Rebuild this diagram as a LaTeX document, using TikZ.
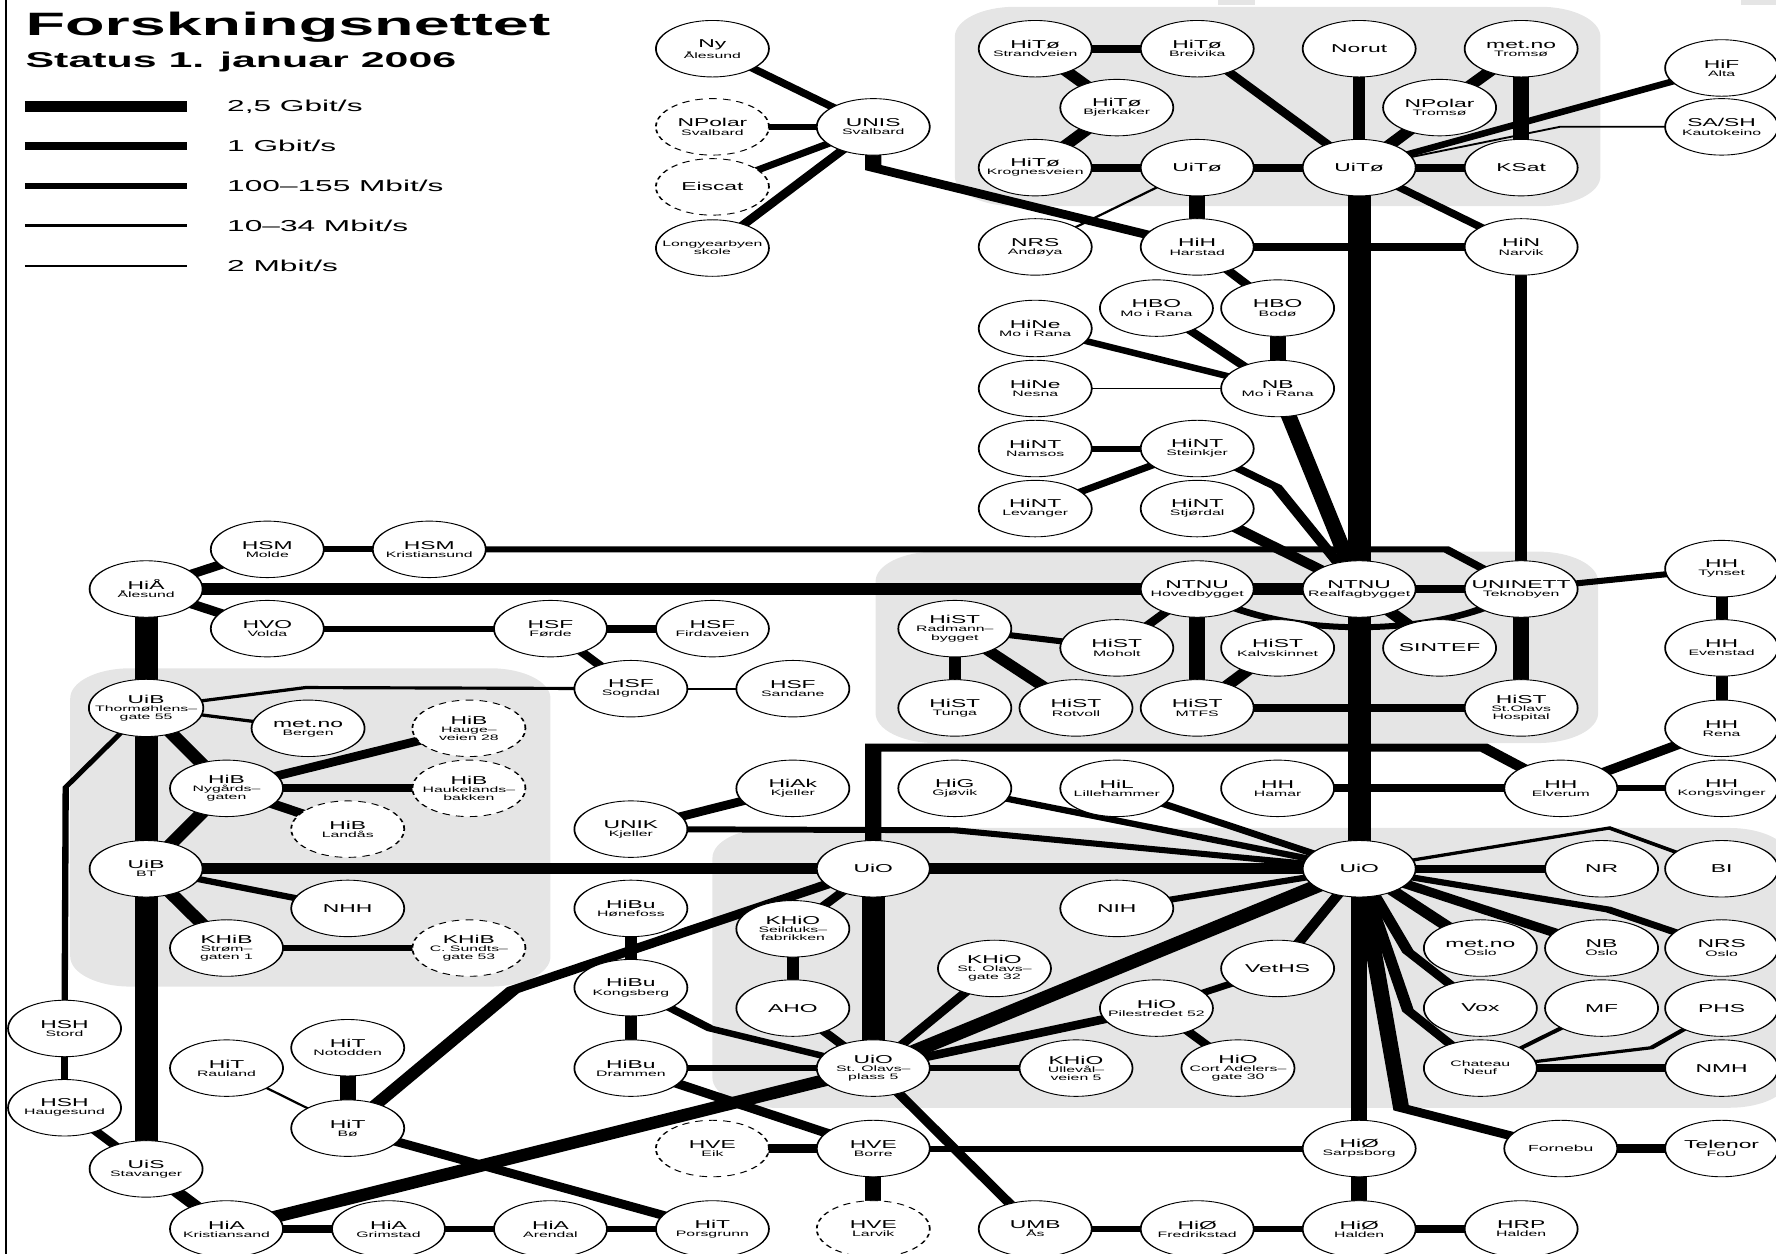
\documentclass[tikz,border=0pt]{standalone}
\usepackage{fontspec}
\setmainfont{Liberation Sans}
\usetikzlibrary{calc}
\definecolor{regiongray}{gray}{0.9}
\newcommand{\sm}[1]{{\fontsize{4.5}{4.6}\selectfont #1}}
\pgfdeclarelayer{regions}
\pgfdeclarelayer{links}
\pgfsetlayers{regions,links,main}
\tikzset{
  wide/.style={transform canvas={xscale=2}, x=0.11325mm, y=-0.2265mm},
  site/.style={circle, draw, line width=0.5pt, fill=white, minimum size=11.3mm, inner sep=0pt, align=center, font=\fontsize{6.5}{4.6}\selectfont},
  planned/.style={site, dash pattern=on 2.2pt off 1.8pt},
  region/.style={fill=regiongray, rounded corners=6mm},
  gbit25/.style={line width=6.5pt},
  gbit1/.style={line width=4.6pt},
  mbit100/.style={line width=3.4pt},
  mbit10/.style={line width=1.8pt},
  mbit2/.style={line width=1pt}
}
\begin{document}
\begin{tikzpicture}
\path[use as bounding box] (0,0) rectangle (35.515cm,-25.074cm);
\begin{scope}[wide]
% title and legend
\draw[line width=0.5pt] (5,0) -- (5,1107);
\node[anchor=base west, font=\fontsize{18.4}{20}\selectfont\bfseries, inner sep=0pt] (title) at (22,31) {Forskningsnettet};
\node[anchor=base west, font=\fontsize{12.2}{14}\selectfont\bfseries, inner sep=0pt] (status) at (22,60) {Status 1. januar 2006};
\draw[gbit25] (22,94) -- (165,94);
\draw[gbit1] (22,129) -- (165,129);
\draw[mbit100] (22,164) -- (165,164);
\draw[mbit10] (22,199) -- (165,199);
\draw[mbit2] (22,235) -- (165,235);
\node[anchor=west, font=\fontsize{9}{9}\selectfont, inner sep=0pt] (leg1) at (200,94) {2,5 Gbit/s};
\node[anchor=west, font=\fontsize{9}{9}\selectfont, inner sep=0pt] (leg2) at (200,129) {1 Gbit/s};
\node[anchor=west, font=\fontsize{9}{9}\selectfont, inner sep=0pt] (leg3) at (200,164) {100–155 Mbit/s};
\node[anchor=west, font=\fontsize{9}{9}\selectfont, inner sep=0pt] (leg4) at (200,199) {10–34 Mbit/s};
\node[anchor=west, font=\fontsize{9}{9}\selectfont, inner sep=0pt] (leg5) at (200,235) {2 Mbit/s};
% Svalbard
\node[site] (nyaal) at (629,43) {Ny\\\sm{Ålesund}};
\node[planned] (npolsv) at (629,112) {NPolar\\\sm{Svalbard}};
\node[planned] (eiscat) at (629,165) {Eiscat};
\node[site] (lyb) at (629,219) {\sm{Longyearbyen}\\\sm{skole}};
\node[site] (unis) at (771,112) {UNIS\\\sm{Svalbard}};
% Tromsø and the north
\node[site] (hitostr) at (914,43) {HiTø\\\sm{Strandveien}};
\node[site] (hitobre) at (1057,43) {HiTø\\\sm{Breivika}};
\node[site] (norut) at (1200,43) {Norut};
\node[site] (mettos) at (1343,43) {met.no\\\sm{Tromsø}};
\node[site] (hitobje) at (986,95) {HiTø\\\sm{Bjerkaker}};
\node[site] (npoltos) at (1271,95) {NPolar\\\sm{Tromsø}};
\node[site] (hitokro) at (914,148) {HiTø\\\sm{Krognesveien}};
\node[site] (uitoa) at (1057,148) {UiTø};
\node[site] (uitob) at (1200,148) {UiTø};
\node[site] (ksat) at (1343,148) {KSat};
\node[site] (hif) at (1520,60) {HiF\\\sm{Alta}};
\node[site] (sash) at (1520,112) {SA/SH\\\sm{Kautokeino}};
\node[site] (nrsand) at (914,218) {NRS\\\sm{Andøya}};
\node[site] (hih) at (1057,218) {HiH\\\sm{Harstad}};
\node[site] (hin) at (1343,218) {HiN\\\sm{Narvik}};
\node[site] (hbomo) at (1021,272) {HBO\\\sm{Mo i Rana}};
\node[site] (hbobod) at (1128,272) {HBO\\\sm{Bodø}};
\node[site] (hinemo) at (914,290) {HiNe\\\sm{Mo i Rana}};
\node[site] (nbmo) at (1128,343) {NB\\\sm{Mo i Rana}};
\node[site] (hinenes) at (914,343) {HiNe\\\sm{Nesna}};
\node[site] (hintnam) at (914,396) {HiNT\\\sm{Namsos}};
\node[site] (hintste) at (1057,396) {HiNT\\\sm{Steinkjer}};
\node[site] (hintlev) at (914,449) {HiNT\\\sm{Levanger}};
\node[site] (hintstj) at (1057,449) {HiNT\\\sm{Stjørdal}};
% Trondheim
\node[site] (ntnuhb) at (1057,520) {NTNU\\\sm{Hovedbygget}};
\node[site] (ntnurf) at (1200,520) {NTNU\\\sm{Realfagbygget}};
\node[site] (uninett) at (1343,520) {UNINETT\\\sm{Teknobyen}};
\node[site] (histrad) at (843,555) {HiST\\\sm{Radmann–}\\\sm{bygget}};
\node[site] (histmoh) at (986,572) {HiST\\\sm{Moholt}};
\node[site] (histkal) at (1128,572) {HiST\\\sm{Kalvskinnet}};
\node[site] (sintef) at (1271,572) {SINTEF};
\node[site] (histtun) at (843,625) {HiST\\\sm{Tunga}};
\node[site] (histrot) at (950,625) {HiST\\\sm{Rotvoll}};
\node[site] (histmtfs) at (1057,625) {HiST\\\sm{MTFS}};
\node[site] (histsto) at (1343,625) {HiST\\\sm{St.Olavs}\\\sm{Hospital}};
% Hedmark and Oppland
\node[site] (hhtyn) at (1520,502) {HH\\\sm{Tynset}};
\node[site] (hheve) at (1520,572) {HH\\\sm{Evenstad}};
\node[site] (hhren) at (1520,643) {HH\\\sm{Rena}};
\node[site] (hhelv) at (1378,696) {HH\\\sm{Elverum}};
\node[site] (hhkon) at (1520,696) {HH\\\sm{Kongsvinger}};
\node[site] (hhham) at (1128,696) {HH\\\sm{Hamar}};
\node[site] (hil) at (986,696) {HiL\\\sm{Lillehammer}};
\node[site] (hig) at (843,696) {HiG\\\sm{Gjøvik}};
% Vestlandet
\node[site] (hsmmol) at (236,485) {HSM\\\sm{Molde}};
\node[site] (hsmkri) at (379,485) {HSM\\\sm{Kristiansund}};
\node[site] (hiaal) at (129,520) {HiÅ\\\sm{Ålesund}};
\node[site] (hvo) at (236,555) {HVO\\\sm{Volda}};
\node[site] (hsffor) at (486,555) {HSF\\\sm{Førde}};
\node[site] (hsffir) at (629,555) {HSF\\\sm{Firdaveien}};
\node[site] (hsfsog) at (557,608) {HSF\\\sm{Sogndal}};
\node[site] (hsfsan) at (700,608) {HSF\\\sm{Sandane}};
% Bergen
\node[site] (uibtho) at (129,625) {UiB\\\sm{Thormøhlens–}\\\sm{gate 55}};
\node[site] (metbg) at (272,643) {met.no\\\sm{Bergen}};
\node[planned] (hibhau) at (414,643) {HiB\\\sm{Hauge–}\\\sm{veien 28}};
\node[site] (hibnyg) at (200,696) {HiB\\\sm{Nygårds–}\\\sm{gaten}};
\node[planned] (hibhauk) at (414,696) {HiB\\\sm{Haukelands–}\\\sm{bakken}};
\node[planned] (hiblan) at (307,732) {HiB\\\sm{Landås}};
\node[site] (uibbt) at (129,767) {UiB\\\sm{BT}};
\node[site] (nhh) at (307,802) {NHH};
\node[site] (khibstr) at (200,837) {KHiB\\\sm{Strøm–}\\\sm{gaten 1}};
\node[planned] (khibcs) at (414,837) {KHiB\\\sm{C. Sundts–}\\\sm{gate 53}};
% south and west coast
\node[site] (hshsto) at (57,908) {HSH\\\sm{Stord}};
\node[site] (hshhau) at (57,978) {HSH\\\sm{Haugesund}};
\node[site] (uis) at (129,1032) {UiS\\\sm{Stavanger}};
\node[site] (hiakri) at (200,1085) {HiA\\\sm{Kristiansand}};
\node[site] (hiagri) at (343,1085) {HiA\\\sm{Grimstad}};
\node[site] (hiaare) at (486,1085) {HiA\\\sm{Arendal}};
\node[site] (hitpor) at (629,1085) {HiT\\\sm{Porsgrunn}};
\node[site] (hitrau) at (200,943) {HiT\\\sm{Rauland}};
\node[site] (hitnot) at (307,925) {HiT\\\sm{Notodden}};
\node[site] (hitbo) at (307,996) {HiT\\\sm{Bø}};
% Oslo and the east
\node[site] (unik) at (557,732) {UNIK\\\sm{Kjeller}};
\node[site] (hiak) at (700,696) {HiAk\\\sm{Kjeller}};
\node[site] (uioa) at (771,767) {UiO};
\node[site] (hibuhon) at (557,802) {HiBu\\\sm{Hønefoss}};
\node[site] (khioseil) at (700,820) {KHiO\\\sm{Seilduks–}\\\sm{fabrikken}};
\node[site] (hibukon) at (557,872) {HiBu\\\sm{Kongsberg}};
\node[site] (aho) at (700,890) {AHO};
\node[site] (hibudra) at (557,943) {HiBu\\\sm{Drammen}};
\node[site] (uiosop) at (771,943) {UiO\\\sm{St. Olavs–}\\\sm{plass 5}};
\node[site] (khiosog) at (878,855) {KHiO\\\sm{St. Olavs–}\\\sm{gate 32}};
\node[site] (khioull) at (950,943) {KHiO\\\sm{Ullevål–}\\\sm{veien 5}};
\node[site] (hiopil) at (1021,890) {HiO\\\sm{Pilestredet 52}};
\node[site] (hiocort) at (1093,943) {HiO\\\sm{Cort Adelers–}\\\sm{gate 30}};
\node[site] (veths) at (1128,855) {VetHS};
\node[site] (nih) at (986,802) {NIH};
\node[site] (uiob) at (1200,767) {UiO};
\node[site] (nr) at (1414,767) {NR};
\node[site] (bi) at (1520,767) {BI};
\node[site] (metosl) at (1307,837) {met.no\\\sm{Oslo}};
\node[site] (nbosl) at (1414,837) {NB\\\sm{Oslo}};
\node[site] (nrsosl) at (1520,837) {NRS\\\sm{Oslo}};
\node[site] (vox) at (1307,890) {Vox};
\node[site] (mf) at (1414,890) {MF};
\node[site] (phs) at (1520,890) {PHS};
\node[site] (chateau) at (1307,943) {\sm{Chateau}\\\sm{Neuf}};
\node[site] (nmh) at (1520,943) {NMH};
\node[planned] (hveeik) at (629,1014) {HVE\\\sm{Eik}};
\node[site] (hveborre) at (771,1014) {HVE\\\sm{Borre}};
\node[planned] (hvelar) at (771,1085) {HVE\\\sm{Larvik}};
\node[site] (umb) at (914,1085) {UMB\\\sm{Ås}};
\node[site] (hiofre) at (1057,1085) {HiØ\\\sm{Fredrikstad}};
\node[site] (hiosar) at (1200,1014) {HiØ\\\sm{Sarpsborg}};
\node[site] (hiohal) at (1200,1085) {HiØ\\\sm{Halden}};
\node[site] (hrp) at (1343,1085) {HRP\\\sm{Halden}};
\node[site] (fornebu) at (1378,1014) {\fontsize{5}{5}\selectfont Fornebu};
\node[site] (telenor) at (1520,1014) {Telenor\\\sm{FoU}};
\end{scope}

\begin{pgfonlayer}{regions}
\begin{scope}[wide]
\fill[region] (843,6) rectangle (1413,182);
\fill[region] (773,487) rectangle (1411,656);
\fill[region] (62,590) rectangle (486,871);
\fill[region] (629,731) rectangle (1580,978);
\fill[regiongray] (1075,0) rectangle (1108,4);
\fill[regiongray] (1537,0) rectangle (1568,4);
\end{scope}
\end{pgfonlayer}

\begin{pgfonlayer}{links}
\begin{scope}[wide]
% 2,5 Gbit/s
\path[gbit25]
(uitob.center) edge (ntnurf.center)
(ntnurf.center) edge (uiob.center)
(hiaal.center) edge (ntnuhb.center)
(ntnuhb.center) edge (ntnurf.center)
(hiaal.center) edge (uibtho.center)
(uibtho.center) edge (uibbt.center)
(uibbt.center) edge (uis.center)
(uibbt.center) edge (uioa.center)
(uioa.center) edge (uiob.center)
(uioa.center) edge (uiosop.center)
(uiosop.center) edge (uiob.center)
(hiakri.center) edge (uiosop.center);
% 1 Gbit/s
\path[gbit1]
(hitostr.center) edge (hitobre.center)
(hitostr.center) edge (hitobje.center)
(hitobje.center) edge (hitokro.center)
(hitokro.center) edge (uitoa.center)
(uitoa.center) edge (uitob.center)
(npoltos.center) edge (uitob.center)
(mettos.center) edge (npoltos.center)
(mettos.center) edge (ksat.center)
(uitob.center) edge (ksat.center)
(uitoa.center) edge (hih.center)
(hih.center) edge (hin.center)
(hbobod.center) edge (nbmo.center)
(nbmo.center) edge (ntnurf.center)
(hintstj.center) edge (ntnurf.center)
(ntnurf.center) edge (uninett.center)
(ntnuhb.center) edge (histmtfs.center)
(histmtfs.center) edge (histkal.center)
(histmtfs.center) edge (histsto.center)
(uninett.center) edge (histsto.center)
(ntnurf.center) edge (sintef.center)
(histrad.center) edge (histrot.center)
(hhelv.center) edge (hhren.center)
(hhham.center) edge (hhelv.center)
(hiaal.center) edge (hsmmol.center)
(hiaal.center) edge (hvo.center)
(hsffor.center) edge (hsffir.center)
(uibtho.center) edge (hibnyg.center)
(hibnyg.center) edge (hibhau.center)
(hibnyg.center) edge (hibhauk.center)
(hibnyg.center) edge (hiblan.center)
(hibnyg.center) edge (uibbt.center)
(uibbt.center) edge (khibstr.center)
(uis.center) edge (hiakri.center)
(hiakri.center) edge (hiagri.center)
(hitnot.center) edge (hitbo.center)
(hitbo.center) edge (hitpor.center)
(unik.center) edge (hiak.center)
(hibudra.center) edge (hveborre.center)
(hveeik.center) edge (hveborre.center)
(hveborre.center) edge (hvelar.center)
(uiosop.center) edge (hiopil.center)
(uiob.center) edge (hiosar.center)
(uiob.center) edge (nr.center)
(uiob.center) edge (metosl.center)
(uiob.center) edge (nbosl.center)
(chateau.center) edge (nmh.center)
(fornebu.center) edge (telenor.center)
(hiosar.center) edge (hiohal.center)
(hiohal.center) edge (hrp.center);
\draw[gbit1] (unis.center) -- (771,148) -- (hih.center);
\draw[gbit1] (hitbo.center) -- (453,874) -- (uioa.center);
\draw[gbit1] (uioa.center) -- (771,660) -- (1310,660) -- (hhelv.center);
\draw[gbit1] (uiob.center) -- (1237,978) -- (fornebu.center);
% 100-155 Mbit/s
\path[mbit100]
(nyaal.center) edge (unis.center)
(npolsv.center) edge (unis.center)
(eiscat.center) edge (unis.center)
(lyb.center) edge (unis.center)
(hitobre.center) edge (uitob.center)
(norut.center) edge (uitob.center)
(uitob.center) edge (hif.center)
(uitob.center) edge (hin.center)
(hin.center) edge (uninett.center)
(hih.center) edge (hbobod.center)
(hbomo.center) edge (nbmo.center)
(hinemo.center) edge (nbmo.center)
(hintnam.center) edge (hintste.center)
(hintlev.center) edge (hintste.center)
(ntnuhb.center) edge (histmoh.center)
(histrad.center) edge (histmoh.center)
(histrad.center) edge (histtun.center)
(hhtyn.center) edge (uninett.center)
(hhtyn.center) edge (hheve.center)
(hheve.center) edge (hhren.center)
(hhelv.center) edge (hhkon.center)
(hsmmol.center) edge (hsmkri.center)
(hvo.center) edge (hsffor.center)
(hsffor.center) edge (hsfsog.center)
(uibbt.center) edge (nhh.center)
(khibstr.center) edge (khibcs.center)
(hshhau.center) edge (uis.center)
(hiagri.center) edge (hiaare.center)
(hiaare.center) edge (hitpor.center)
(hig.center) edge (uiob.center)
(hil.center) edge (uiob.center)
(uioa.center) edge (khioseil.center)
(khioseil.center) edge (aho.center)
(aho.center) edge (uiosop.center)
(hibuhon.center) edge (hibukon.center)
(hibukon.center) edge (hibudra.center)
(hibudra.center) edge (uiosop.center)
(hveborre.center) edge (hiosar.center)
(uiosop.center) edge (umb.center)
(uiosop.center) edge (khiosog.center)
(uiosop.center) edge (khioull.center)
(hiopil.center) edge (veths.center)
(hiopil.center) edge (hiocort.center)
(veths.center) edge (uiob.center)
(nih.center) edge (uiob.center)
(umb.center) edge (hiofre.center)
(hiofre.center) edge (hiohal.center);
\draw[mbit100] (hintste.center) -- (1127,430) -- (ntnurf.center);
\draw[mbit100] (hsmkri.center) -- (1277,485) -- (uninett.center);
\draw[mbit100] (ntnuhb.center) .. controls (1120,565) and (1280,565) .. (uninett.center);
\draw[mbit100] (unik.center) -- (843,733) -- (uiob.center);
\draw[mbit100] (hibukon.center) -- (627,908) -- (uiosop.center);
\draw[mbit100] (uiob.center) -- (1420,803) -- (nrsosl.center);
\draw[mbit100] (uiob.center) -- (1243,840) -- (vox.center);
\draw[mbit100] (uiob.center) -- (1243,892) -- (chateau.center);
% 10-34 Mbit/s
\path[mbit10]
(uibtho.center) edge (metbg.center)
(hshsto.center) edge (hshhau.center)
(chateau.center) edge (mf.center);
\draw[mbit10] (uibtho.center) -- (270,607) -- (hsfsog.center);
\draw[mbit10] (uibtho.center) -- (58,695) -- (hshsto.center);
\draw[mbit10] (uiob.center) -- (1421,731) -- (bi.center);
\draw[mbit10] (chateau.center) -- (1458,925) -- (phs.center);
% 2 Mbit/s
\path[mbit2]
(uitoa.center) edge (nrsand.center)
(hinenes.center) edge (nbmo.center)
(hsfsog.center) edge (hsfsan.center)
(hitrau.center) edge (hitbo.center);
\draw[mbit2] (uitob.center) -- (1377,112) -- (sash.center);
\end{scope}
\end{pgfonlayer}
\end{tikzpicture}
\end{document}
